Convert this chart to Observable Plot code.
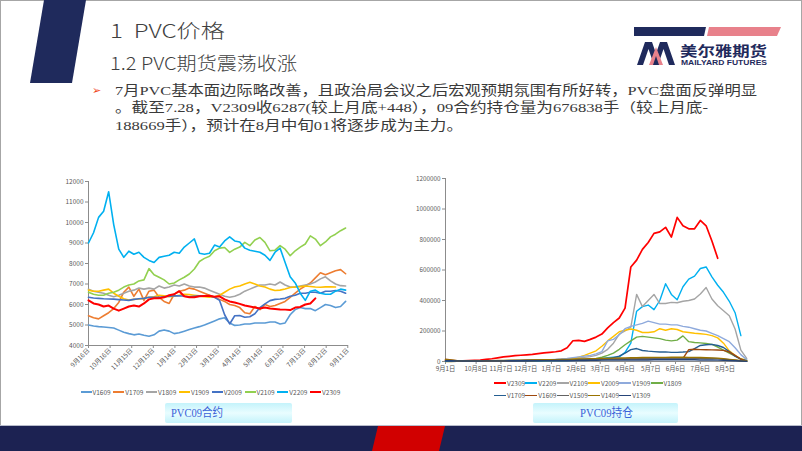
<!DOCTYPE html>
<html><head><meta charset="utf-8">
<script src="https://cdn.jsdelivr.net/npm/d3@7"></script>
<script src="https://cdn.jsdelivr.net/npm/@observablehq/plot@0.6"></script>
<style>
html,body{margin:0;padding:0;background:#fff;}
#slide{position:relative;width:802px;height:451px;overflow:hidden;background:#fff;font-family:"Noto Sans CJK SC",sans-serif;}
.t{position:absolute;white-space:nowrap;transform-origin:0 50%;display:inline-block;line-height:1;}
.body{font-family:"Liberation Serif","Noto Sans CJK SC",serif;font-size:13.5px;color:#3a3a3a;}
.cap{position:absolute;height:20px;border-radius:2px;background:linear-gradient(to bottom,#c4f3fb,#e9fdff 50%,#c4f3fb);}
.capt{font-family:"Liberation Serif","Noto Sans CJK SC",serif;font-size:12px;color:#3a62d8;}
.leg{position:absolute;font-size:6.5px;color:#595959;white-space:nowrap;line-height:1;}
.leg i{position:absolute;left:0;top:50%;height:1.6px;margin-top:-0.8px;}
.leg span{position:absolute;top:0;}
.chart{position:absolute;}
</style></head>
<body><div id="slide">
<svg width="802" height="451" style="position:absolute;left:0;top:0">
  <rect x="0.5" y="0.5" width="801" height="450" fill="none" stroke="#a6a6a6"/>
  <polygon points="44,0 86,0 72,83 30,83" fill="#1f2a5c"/>
  <rect x="0" y="425" width="802" height="1" fill="#b8bccb"/>
  <rect x="0" y="426" width="802" height="25" fill="#1c2252"/>
  <polygon points="378,426 445,426 439,451 372,451" fill="#d10000"/>
  <polygon points="634,27 706,27 704,36 634,36" fill="#1f2a5c"/>
  <polygon points="709,27 781,27 777,36 707,36" fill="#e8818b"/>
  <polygon points="637,65 645,42 652,42 660,65 654,65 648.5,49 643,65" fill="#1f2a5c"/>
  <polygon points="652,65 660,42 667,42 675,65 669,65 663.5,49 658,65" fill="#1f2a5c"/>
  <polygon points="649,65 656,47 663,65 659,65 656,56 653,65" fill="#e8818b"/>
</svg>
<div class="t" data-w="115" style="left:110px;top:19.5px;font-size:19px;font-weight:300;color:#3f3f3f">1&nbsp;&nbsp;PVC价格</div>
<div class="t" data-w="187" style="left:110px;top:53px;font-size:18px;font-weight:300;color:#3f3f3f">1.2 PVC期货震荡收涨</div>
<div class="t" style="left:92px;top:85px;font-size:11px;color:#f0441a;font-family:'DejaVu Sans'">➢</div>
<div class="t body" data-w="642" style="left:115px;top:84px">7月PVC基本面边际略改善，且政治局会议之后宏观预期氛围有所好转，PVC盘面反弹明显</div>
<div class="t body" data-w="593" style="left:115px;top:101px">。截至7.28，V2309收6287(较上月底+448），09合约持仓量为676838手（较上月底-</div>
<div class="t body" data-w="348" style="left:115px;top:119px">188669手），预计在8月中旬01将逐步成为主力。</div>
<div class="t" data-w="87" style="left:680px;top:43px;font-size:14px;font-weight:700;color:#1f2a5c">美尔雅期货</div>
<div class="t" data-w="86" style="left:681px;top:58.5px;font-size:7px;font-weight:700;color:#1f2a5c;font-family:'Liberation Sans'">MAILYARD FUTURES</div>
<div id="leftChart" class="chart" style="left:40px;top:170px"></div>
<div id="rightChart" class="chart" style="left:400px;top:170px"></div>
<div id="leftLegend"></div>
<div id="rightLegend"></div>
<div class="cap" style="left:165px;top:403px;width:127px"></div>
<div class="cap" style="left:533px;top:403px;width:145px"></div>
<div class="t capt" data-w="52" style="left:171px;top:407px">PVC09合约</div>
<div class="t capt" data-w="53" style="left:580px;top:407px">PVC09持仓</div>
</div>
<script>
// ---------- Left chart: PVC09 contract prices ----------
const leftDates = ["2022-09-16","2022-09-23","2022-09-30","2022-10-07","2022-10-14","2022-10-21","2022-10-28","2022-11-04","2022-11-11","2022-11-18","2022-11-25","2022-12-02","2022-12-09","2022-12-16","2022-12-23","2022-12-30","2023-01-06","2023-01-13","2023-01-20","2023-01-27","2023-02-03","2023-02-10","2023-02-17","2023-02-24","2023-03-03","2023-03-10","2023-03-17","2023-03-24","2023-03-31","2023-04-07","2023-04-14","2023-04-21","2023-04-28","2023-05-05","2023-05-12","2023-05-19","2023-05-26","2023-06-02","2023-06-09","2023-06-16","2023-06-23","2023-06-30","2023-07-07","2023-07-14","2023-07-21","2023-07-28","2023-08-04","2023-08-11","2023-08-18","2023-08-25","2023-09-01","2023-09-08"];
const leftTicks = ["2022-09-16","2022-10-16","2022-11-15","2022-12-15","2023-01-14","2023-02-13","2023-03-15","2023-04-14","2023-05-14","2023-06-13","2023-07-13","2023-08-12","2023-09-11"];
const leftYTicks = [4000,5000,6000,7000,8000,9000,10000,11000,12000];
const leftNames = ["V1609","V1709","V1809","V1909","V2009","V2109","V2209","V2309"];
const leftColors = ["#5b9bd5","#ed7d31","#a5a5a5","#ffc000","#4472c4","#92d050","#00b0f0","#ff0000"];
const v1609 = [5000,4950,4920,4900,4880,4850,4750,4650,4580,4520,4560,4500,4450,4520,4700,4760,4700,4580,4620,4700,4780,4850,4920,5000,5100,5200,5300,5350,5100,4980,5000,5050,5050,5100,5100,5100,5150,5150,5050,5100,5500,5750,5850,5800,5800,5700,5850,6000,5950,5850,5900,6150];
const v1709 = [5450,5350,5300,5450,5600,5800,6100,6600,6850,6400,6750,6200,6650,6700,6350,6150,6050,6500,6650,6700,6800,6750,6650,6550,6450,6350,6250,6150,6000,5950,5850,5600,5550,5900,5750,6000,5900,5950,6050,6150,6350,6550,6750,6900,7050,7300,7550,7450,7550,7650,7700,7500];
const v1809 = [6750,6650,6600,6550,6450,6380,6450,6550,6650,6700,6800,6750,6800,6750,6900,6800,6850,6950,6900,7000,6900,6850,6850,6800,6700,6600,6500,6400,6350,6400,6500,6650,6750,6850,6950,6950,7000,6950,7100,6950,6850,6850,6900,6950,7000,7100,7250,7350,7150,7000,6920,6900];
const v1909 = [6700,6650,6650,6700,6750,6550,6400,6280,6220,6250,6270,6300,6350,6380,6450,6420,6380,6400,6450,6500,6480,6450,6420,6380,6350,6380,6450,6600,6750,6850,6900,7000,7080,7000,6900,6850,6750,6680,6700,6760,6830,6850,6870,6900,6880,6850,6840,6860,6860,6850];
const v2009 = [6350,6320,6300,6280,6270,6260,6240,6220,6200,6250,6280,6300,6350,6350,6350,6380,6400,6420,6430,6400,6380,6400,6420,6430,6420,6350,6200,5500,5050,5450,5460,5380,5400,5550,5850,6030,6190,6250,6270,6300,6400,6450,6550,6550,6600,6600,6550,6650,6650,6680,6650,6550];
const v2109 = [6600,6500,6450,6450,6550,6600,6700,6850,6950,7000,7150,7200,7750,7450,7330,7200,7000,7050,7200,7330,7490,7730,8100,8250,8350,8620,8750,8780,8540,8700,8800,9030,8870,9150,9270,9030,8620,8650,8870,8700,8380,8620,8800,8950,9350,9190,8870,9050,9300,9430,9600,9730];
const v2209 = [9000,9500,10250,10550,11500,9900,8700,8300,8600,8450,8550,8300,8150,8050,8300,8350,8400,8550,8500,8800,9000,9200,8500,8450,8500,8900,8800,9100,9300,9100,9050,8750,8650,8600,8550,8400,8150,8550,8750,8050,7350,7050,6550,6200,6650,6700,6550,6500,6500,6650,6750,6700];
const v2309 = [6200,6050,6000,5900,5950,5800,5700,5800,5900,5950,5900,6050,6250,6300,6300,6350,6450,6500,6650,6400,6350,6350,6400,6420,6430,6380,6400,6250,6150,6100,6030,5950,5900,5850,5800,5850,5800,5780,5760,5750,5730,5850,5880,6000,6050,6300];
const leftValues = [v1609,v1709,v1809,v1909,v2009,v2109,v2209,v2309];

// ---------- Right chart: PVC09 open interest (thousand lots) ----------
const rightDates = ["2022-09-01","2022-09-08","2022-09-15","2022-09-22","2022-09-29","2022-10-06","2022-10-13","2022-10-20","2022-10-27","2022-11-03","2022-11-10","2022-11-17","2022-11-24","2022-12-01","2022-12-08","2022-12-15","2022-12-22","2022-12-29","2023-01-05","2023-01-12","2023-01-19","2023-01-26","2023-02-02","2023-02-09","2023-02-16","2023-02-23","2023-03-02","2023-03-09","2023-03-16","2023-03-23","2023-03-30","2023-04-06","2023-04-13","2023-04-20","2023-04-27","2023-05-04","2023-05-11","2023-05-18","2023-05-25","2023-06-01","2023-06-08","2023-06-15","2023-06-22","2023-06-29","2023-07-06","2023-07-13","2023-07-20","2023-07-27","2023-08-03","2023-08-10","2023-08-17","2023-08-24","2023-08-31"];
const rightTicks = ["2022-09-01","2022-10-08","2022-11-07","2022-12-07","2023-01-07","2023-02-06","2023-03-07","2023-04-06","2023-05-07","2023-06-06","2023-07-06","2023-08-05"];
const rightYTicks = [0,200000,400000,600000,800000,1000000,1200000];
const rightNames = ["V2309","V2209","V2109","V2009","V1909","V1809","V1709","V1609","V1509","V1409","V1309"];
const rightColors = ["#ff0000","#00b0f0","#a5a5a5","#ffc000","#8faadc","#70ad47","#255e91","#9e480e","#636363","#997300","#264478"];
const r2309 = [5,4,3,4,6,8,10,14,18,24,30,34,38,41,44,47,52,56,60,64,70,90,136,138,132,145,160,180,220,255,285,350,620,665,735,780,840,850,880,816,945,890,870,870,925,890,790,677];
const r2209 = [1,1,1,2,2,2,3,3,3,4,4,5,5,6,6,7,8,8,9,10,10,11,12,13,14,15,17,20,25,28,30,60,120,330,360,370,340,400,510,440,405,490,540,560,610,620,555,500,454,395,320,170];
const r2109 = [2,2,2,2,3,3,3,4,4,5,5,6,6,7,8,9,10,11,12,13,15,17,20,23,27,32,40,55,80,120,180,200,225,440,360,400,440,380,380,388,385,395,400,410,443,485,410,366,333,300,213,75,20];
const r2009 = [0,0,1,1,1,2,2,2,3,3,4,4,5,5,6,7,8,9,10,12,14,17,20,28,40,55,70,100,135,165,195,205,213,205,190,190,195,215,205,215,210,195,190,185,182,178,170,155,120,70,40,18,8];
const r1909 = [0,0,1,1,1,2,2,3,3,4,4,5,5,6,7,8,9,10,12,14,16,20,25,30,35,40,50,65,135,145,175,215,230,240,250,265,255,245,245,240,240,230,225,215,205,200,185,170,150,130,90,45,12];
const r1809 = [1,1,1,1,2,2,2,2,3,3,3,3,4,4,4,5,5,5,6,6,7,8,9,10,12,15,20,28,40,55,80,110,135,160,165,160,155,150,140,135,140,168,130,125,122,118,112,95,75,55,35,15,5];
const r1709 = [1,1,1,1,1,1,1,1,2,2,2,2,2,3,3,3,3,4,4,4,5,5,6,6,7,8,10,12,15,25,35,55,78,85,72,68,65,62,63,60,60,62,65,85,105,110,112,105,92,65,35,15,4];
const r1609 = [15,10,5,3,2,2,3,3,4,4,5,5,6,6,7,7,8,8,9,9,10,11,12,12,13,13,14,14,15,15,16,16,17,17,18,18,18,19,19,19,20,20,78,80,78,77,76,75,73,62,40,15,3];
const r1509 = [8,6,4,3,3,3,4,4,5,5,6,6,7,7,8,8,9,9,10,10,11,11,12,12,13,13,14,14,15,15,16,16,17,17,18,18,18,19,19,20,20,20,21,21,21,20,20,18,15,12,8,4,2];
const r1409 = [12,9,6,4,4,5,5,6,6,7,7,8,8,9,9,10,10,11,12,12,13,14,15,16,17,18,19,20,21,22,23,24,25,25,26,26,27,27,27,28,28,28,27,27,26,25,24,22,18,14,10,5,2];
const r1309 = [6,5,4,3,3,3,3,4,4,4,4,5,5,5,5,6,6,6,6,7,7,7,7,8,8,8,8,9,9,9,9,10,10,10,10,10,11,11,11,11,11,11,11,11,10,10,10,9,8,7,5,3,1];
const rightValues = [r2309,r2209,r2109,r2009,r1909,r1809,r1709,r1609,r1509,r1409,r1309];

// ---------- build ----------
const parse = d3.utcParse("%Y-%m-%d");
const md = d => `${d.getUTCMonth()+1}月${d.getUTCDate()}日`;
const axisColor = "#8c8c8c", textColor = "#595959";
const font = "'Noto Sans CJK SC', sans-serif";

const leftRows = leftNames.flatMap((n, s) => leftValues[s].map((v, i) => ({date: parse(leftDates[i]), value: v, name: n})));
const leftPlot = Plot.plot({
  width: 320, height: 205,
  marginLeft: 48, marginRight: 12, marginTop: 11, marginBottom: 30,
  style: {fontFamily: font, fontSize: "6.5px", color: textColor, background: "transparent", overflow: "visible"},
  x: {type: "utc", domain: [parse("2022-09-16"), parse("2023-09-12")]},
  y: {domain: [4000, 12000]},
  color: {domain: leftNames, range: leftColors},
  marks: [
    Plot.axisY({ticks: leftYTicks, tickFormat: d => String(d), label: null, tickSize: 3, tickPadding: 2, stroke: axisColor, fill: textColor}),
    Plot.axisX({ticks: leftTicks.map(parse), tickFormat: md, label: null, tickSize: 3, tickPadding: 1, tickRotate: -45, stroke: axisColor, fill: textColor}),
    Plot.ruleX([parse("2022-09-16")], {stroke: axisColor}),
    Plot.ruleY([4000], {stroke: axisColor}),
    Plot.line(leftRows, {x: "date", y: "value", z: "name", stroke: "name", strokeWidth: d => d.name === "V2309" ? 2 : 1.6})
  ]
});
document.getElementById("leftChart").append(leftPlot);

const rightRows = rightNames.flatMap((n, s) => rightValues[s].map((v, i) => ({date: parse(rightDates[i]), value: v * 1000, name: n})));
const rightPlot = Plot.plot({
  width: 360, height: 210,
  marginLeft: 45, marginRight: 13, marginTop: 8, marginBottom: 19,
  style: {fontFamily: font, fontSize: "6.3px", color: textColor, background: "transparent", overflow: "visible"},
  x: {type: "utc", domain: [parse("2022-09-01"), parse("2023-09-01")]},
  y: {domain: [0, 1200000]},
  color: {domain: rightNames, range: rightColors},
  marks: [
    Plot.axisY({ticks: rightYTicks, tickFormat: d => String(d), label: null, tickSize: 3, tickPadding: 2, stroke: axisColor, fill: textColor}),
    Plot.axisX({ticks: rightTicks.map(parse), tickFormat: md, label: null, tickSize: 3, tickPadding: 2, stroke: axisColor, fill: textColor}),
    Plot.ruleX([parse("2022-09-01")], {stroke: axisColor}),
    Plot.ruleY([0], {stroke: axisColor}),
    Plot.line(rightRows, {x: "date", y: "value", z: "name", stroke: "name", strokeWidth: d => d.name === "V2309" ? 1.7 : 1.4})
  ]
});
document.getElementById("rightChart").append(rightPlot);

// legends
function legend(containerId, names, colors, x0, pitch, y, perRow, rowGap, swatch) {
  const c = document.getElementById(containerId);
  names.forEach((n, i) => {
    const row = Math.floor(i / perRow), col = i % perRow;
    const d = document.createElement("div");
    d.className = "leg";
    d.style.left = (x0 + col * pitch) + "px";
    d.style.top = (y + row * rowGap - 3.5) + "px";
    d.style.height = "7px";
    d.innerHTML = `<i style="width:${swatch}px;background:${colors[i]}"></i><span style="left:${swatch + 1}px">${n}</span>`;
    c.append(d);
  });
}
legend("leftLegend", leftNames, leftColors, 80.5, 32.8, 392, 8, 0, 11);
legend("rightLegend", rightNames, rightColors, 494, 31.3, 383, 6, 12.5, 12);

function fit() {
  document.querySelectorAll("[data-w]").forEach(el => {
    el.style.transform = "none";
    const w = el.getBoundingClientRect().width;
    if (w > 0) el.style.transform = `scaleX(${(+el.dataset.w) / w})`;
  });
}
fit();
if (document.fonts) document.fonts.ready.then(fit);
</script>
</body></html>
